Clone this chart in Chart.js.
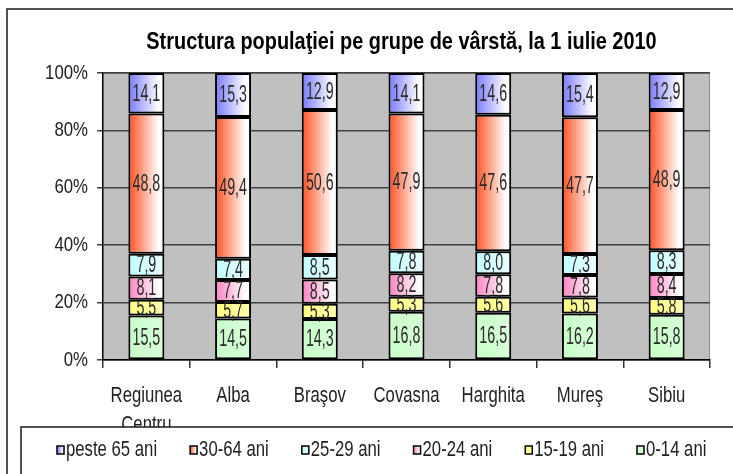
<!DOCTYPE html>
<html>
<head>
<meta charset="utf-8">
<script src="https://cdn.jsdelivr.net/npm/chart.js@4"></script>
<style>
  body { margin: 0; background: #fff; }
  canvas { display: block; }
</style>
</head>
<body>
<canvas id="myChart" width="733" height="474"></canvas>
<script>
// values (percent of population)
const categories = [['Regiunea', 'Centru'], 'Alba', 'Braşov', 'Covasna', 'Harghita', 'Mureş', 'Sibiu'];
const groups = ['0-14 ani', '15-19 ani', '20-24 ani', '25-29 ani', '30-64 ani', 'peste 65 ani'];
const age0_14 = [15.5, 14.5, 14.3, 16.8, 16.5, 16.2, 15.8];
const age15_19 = [5.5, 5.7, 5.3, 5.3, 5.6, 5.6, 5.8];
const age20_24 = [8.1, 7.7, 8.5, 8.2, 7.8, 7.8, 8.4];
const age25_29 = [7.9, 7.4, 8.5, 7.8, 8.0, 7.3, 8.3];
const age30_64 = [48.8, 49.4, 50.6, 47.9, 47.6, 47.7, 48.9];
const age65plus = [14.1, 15.3, 12.9, 14.1, 14.6, 15.4, 12.9];
const yTicks = [0, 20, 40, 60, 80, 100];
const title = 'Structura populaţiei pe grupe de vârstă, la 1 iulie 2010';

const series = [age0_14, age15_19, age20_24, age25_29, age30_64, age65plus];
// gradient colours: left -> right
const colors = [
  ['#c8ffc8', '#d6ffd6'],
  ['#ffff80', '#ffffa8'],
  ['#ff80c0', '#ffffff'],
  ['#c0ffff', '#e6ffff'],
  ['#ff5020', '#ffffff'],
  ['#7878ff', '#ffffff']
];

const FONT = '"Liberation Sans", Arial, sans-serif';
// no narrow font installed -> squeeze text horizontally, per font size
const squeeze = { 20: 0.84, 22: 0.76, 23: 0.62, 24: 0.83 };

const canvas = document.getElementById('myChart');
const ctx = canvas.getContext('2d');
const plainFillText = ctx.fillText.bind(ctx);
ctx.fillText = function (text, x, y) {
  const m = /(\d+(?:\.\d+)?)px/.exec(this.font);
  const sx = m ? (squeeze[Math.round(parseFloat(m[1]))] || 1) : 1;
  this.save();
  this.translate(x, y);
  this.scale(sx, 1);
  plainFillText(text, 0, 0);
  this.restore();
};

// 100% stacked: each column scaled to sum 100
const totals = categories.map((c, j) => series.reduce((s, arr) => s + arr[j], 0));

function fmt(v) {
  return v.toFixed(1).replace('.', ',');
}

function barGradient(c2d, cx, w, c) {
  const g = c2d.createLinearGradient(cx - w / 2, 0, cx + w / 2, 0);
  g.addColorStop(0, c[0]);
  g.addColorStop(0.85, c[1]);
  g.addColorStop(1, c[1]);
  return g;
}

const datasets = series.map((arr, i) => ({
  label: groups[i],
  raw: arr,
  data: arr.map((v, j) => v / totals[j] * 100),
  borderColor: '#000',
  borderWidth: 2,
  borderSkipped: false,
  categoryPercentage: 1,
  barPercentage: 0.415,
  backgroundColor: function (context) {
    const ch = context.chart;
    const x = ch.scales && ch.scales.x;
    if (!x || context.dataIndex === undefined) return colors[i][0];
    const cx = x.getPixelForValue(context.dataIndex);
    const w = x.width / categories.length * 0.415;
    if (!isFinite(cx) || !isFinite(w) || w <= 0) return colors[i][0];
    return barGradient(ch.ctx, cx, w, colors[i]);
  }
}));

const decor = {
  id: 'decor',
  beforeDraw(chart) {
    const a = chart.chartArea, c2d = chart.ctx;
    c2d.save();
    c2d.fillStyle = '#c0c0c0';
    c2d.fillRect(a.left, a.top, a.right - a.left, a.bottom - a.top);
    c2d.strokeStyle = '#8c8c8c';
    c2d.lineWidth = 1;
    c2d.beginPath();
    c2d.moveTo(a.left, a.top + 0.5);
    c2d.lineTo(a.right - 0.5, a.top + 0.5);
    c2d.lineTo(a.right - 0.5, a.bottom);
    c2d.stroke();
    c2d.restore();
  },
  afterDatasetsDraw(chart) {
    const c2d = chart.ctx;
    c2d.save();
    c2d.font = '23px ' + FONT;
    c2d.fillStyle = '#2a2a2a';
    c2d.textAlign = 'center';
    c2d.textBaseline = 'middle';
    chart.data.datasets.forEach((ds, i) => {
      chart.getDatasetMeta(i).data.forEach((bar, j) => {
        c2d.fillText(fmt(ds.raw[j]), bar.x, (bar.y + bar.base) / 2 + 1);
      });
    });
    c2d.restore();
  },
  afterDraw(chart) {
    const c2d = chart.ctx;
    const a = chart.chartArea;
    c2d.save();
    // title
    c2d.font = 'bold 24px ' + FONT;
    c2d.fillStyle = '#000';
    c2d.textAlign = 'center';
    c2d.textBaseline = 'middle';
    c2d.fillText(title, (a.left + a.right) / 2 - 5, 42);

    // outer frame
    c2d.strokeStyle = '#1a1a1a';
    c2d.lineWidth = 1.5;
    c2d.beginPath();
    c2d.moveTo(7, 480);
    c2d.lineTo(7, 9);
    c2d.lineTo(740, 9);
    c2d.stroke();

    // legend box
    c2d.fillStyle = '#fff';
    c2d.fillRect(21, 427, 720, 60);
    c2d.beginPath();
    c2d.moveTo(21, 480);
    c2d.lineTo(21, 427);
    c2d.lineTo(740, 427);
    c2d.stroke();

    // legend entries, top series first
    c2d.font = '22px ' + FONT;
    c2d.textAlign = 'left';
    c2d.textBaseline = 'middle';
    let x = 57;
    const y = 450;
    for (let i = series.length - 1; i >= 0; i--) {
      c2d.fillStyle = barGradient(c2d, x + 3.5, 7, colors[i]);
      c2d.fillRect(x, y - 4, 7, 8);
      c2d.lineWidth = 1.5;
      c2d.strokeStyle = '#000';
      c2d.strokeRect(x, y - 4, 7, 8);
      c2d.fillStyle = '#222';
      c2d.fillText(groups[i], x + 9, y);
      x += 9 + c2d.measureText(groups[i]).width * squeeze[22] + 33;
    }
    c2d.restore();
  }
};

const myChart = new Chart(ctx, {
  type: 'bar',
  data: {
    labels: categories,
    datasets: datasets
  },
  plugins: [decor],
  options: {
    responsive: false,
    animation: false,
    devicePixelRatio: 1,
    layout: { padding: { left: 0, top: 73, right: 23, bottom: 0 } },
    plugins: {
      legend: { display: false },
      title: { display: false },
      tooltip: { enabled: false }
    },
    scales: {
      x: {
        stacked: true,
        afterFit(scale) { scale.height = 114; },
        grid: {
          offset: true,
          drawOnChartArea: false,
          drawTicks: true,
          tickLength: 8,
          color: '#333',
          lineWidth: 1.5
        },
        border: { display: true, color: '#000', width: 1.5 },
        ticks: {
          font: { family: FONT, size: 22, lineHeight: 1.32 },
          color: '#222',
          padding: 13,
          maxRotation: 0,
          autoSkip: false
        }
      },
      y: {
        stacked: true,
        min: 0,
        max: 100,
        afterFit(scale) { scale.width = 103; },
        afterBuildTicks(scale) { scale.ticks = yTicks.map(v => ({ value: v })); },
        grid: {
          color: '#404040',
          lineWidth: 1.5,
          tickLength: 6
        },
        border: { display: true, color: '#000', width: 1.5 },
        ticks: {
          font: { family: FONT, size: 20 },
          color: '#222',
          padding: 9,
          callback: v => v + '%'
        }
      }
    }
  }
});
</script>
</body>
</html>
